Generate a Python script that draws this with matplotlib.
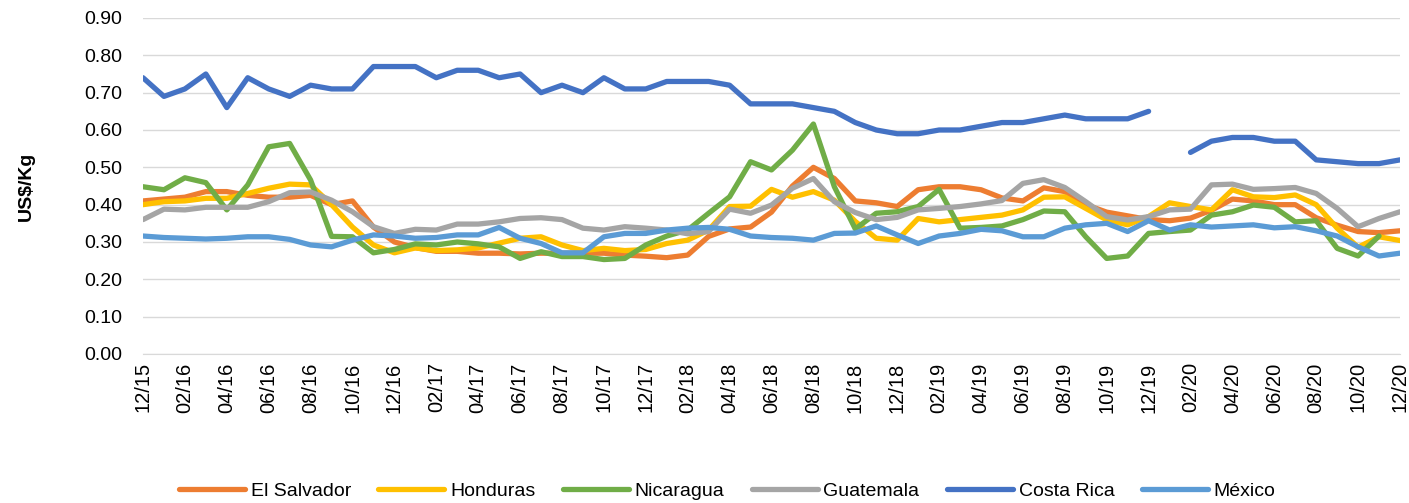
import numpy as np
import matplotlib.pyplot as plt

months = ['12/15'] + [f'{m:02d}/{y}' for y in range(16, 21) for m in range(1, 13)]

el_salvador = [0.41, 0.415, 0.42, 0.435, 0.435, 0.425, 0.42, 0.42, 0.425, 0.40,
               0.41, 0.34, 0.30, 0.285, 0.275, 0.275, 0.27, 0.27, 0.268, 0.27,
               0.27, 0.27, 0.27, 0.265, 0.262, 0.258, 0.265, 0.315, 0.335, 0.34,
               0.38, 0.45, 0.50, 0.47, 0.41, 0.405, 0.395, 0.44, 0.448, 0.448,
               0.44, 0.418, 0.41, 0.445, 0.435, 0.40, 0.38, 0.37, 0.36, 0.357,
               0.364, 0.385, 0.415, 0.41, 0.40, 0.40, 0.365, 0.345, 0.328, 0.325,
               0.33]
honduras = [0.40, 0.408, 0.41, 0.417, 0.417, 0.43, 0.444, 0.455, 0.453, 0.40,
            0.34, 0.292, 0.271, 0.284, 0.277, 0.279, 0.284, 0.297, 0.31, 0.314,
            0.292, 0.277, 0.283, 0.277, 0.28, 0.296, 0.305, 0.332, 0.395, 0.396,
            0.441, 0.42, 0.435, 0.412, 0.355, 0.31, 0.305, 0.363, 0.354, 0.36,
            0.366, 0.372, 0.386, 0.42, 0.421, 0.39, 0.359, 0.346, 0.368, 0.405,
            0.395, 0.386, 0.44, 0.421, 0.419, 0.426, 0.40, 0.337, 0.286, 0.314,
            0.304]
nicaragua = [0.448, 0.44, 0.472, 0.459, 0.386, 0.453, 0.555, 0.564, 0.466, 0.315,
             0.314, 0.271, 0.28, 0.295, 0.292, 0.30, 0.295, 0.287, 0.256, 0.274,
             0.261, 0.261, 0.253, 0.256, 0.292, 0.316, 0.332, 0.377, 0.421, 0.515,
             0.493, 0.546, 0.616, 0.448, 0.335, 0.377, 0.381, 0.395, 0.441, 0.337,
             0.339, 0.343, 0.36, 0.383, 0.381, 0.314, 0.256, 0.2625, 0.323, 0.328,
             0.332, 0.372, 0.381, 0.399, 0.393, 0.354, 0.357, 0.283, 0.2625, 0.316,
             np.nan]
guatemala = [0.36, 0.388, 0.386, 0.393, 0.393, 0.393, 0.408, 0.432, 0.434, 0.412,
             0.381, 0.341, 0.323, 0.334, 0.332, 0.348, 0.348, 0.354, 0.363, 0.365,
             0.36, 0.337, 0.332, 0.341, 0.337, 0.332, 0.322, 0.328, 0.388, 0.377,
             0.399, 0.444, 0.47, 0.408, 0.379, 0.36, 0.366, 0.386, 0.39, 0.395,
             0.402, 0.411, 0.457, 0.467, 0.446, 0.408, 0.368, 0.359, 0.368, 0.386,
             0.388, 0.453, 0.455, 0.441, 0.443, 0.446, 0.43, 0.39, 0.341, 0.363,
             0.381]
costa_rica = [0.74, 0.69, 0.71, 0.75, 0.66, 0.74, 0.71, 0.69, 0.72, 0.71,
              0.71, 0.77, 0.77, 0.77, 0.74, 0.76, 0.76, 0.74, 0.75, 0.70,
              0.72, 0.70, 0.74, 0.71, 0.71, 0.73, 0.73, 0.73, 0.72, 0.67,
              0.67, 0.67, 0.66, 0.65, 0.62, 0.60, 0.59, 0.59, 0.60, 0.60,
              0.61, 0.62, 0.62, 0.63, 0.64, 0.63, 0.63, 0.63, 0.65, np.nan,
              0.54, 0.57, 0.58, 0.58, 0.57, 0.57, 0.52, 0.515, 0.51, 0.51,
              0.52]
mexico = [0.316, 0.312, 0.31, 0.308, 0.31, 0.314, 0.314, 0.307, 0.292, 0.287,
          0.305, 0.319, 0.316, 0.31, 0.312, 0.319, 0.319, 0.339, 0.31, 0.296,
          0.271, 0.271, 0.314, 0.323, 0.323, 0.332, 0.337, 0.339, 0.334, 0.316,
          0.312, 0.31, 0.305, 0.323, 0.324, 0.343, 0.319, 0.296, 0.316, 0.323,
          0.334, 0.33, 0.314, 0.314, 0.337, 0.346, 0.35, 0.328, 0.357, 0.332,
          0.346, 0.34, 0.343, 0.346, 0.338, 0.341, 0.33, 0.316, 0.287, 0.2625,
          0.27]

series = [('El Salvador', el_salvador, '#ED7D31'),
          ('Honduras', honduras, '#FFC000'),
          ('Nicaragua', nicaragua, '#70AD47'),
          ('Guatemala', guatemala, '#A5A5A5'),
          ('Costa Rica', costa_rica, '#4472C4'),
          ('México', mexico, '#5B9BD5')]

plt.rcParams['font.family'] = ['Liberation Sans', 'DejaVu Sans']

fig = plt.figure(figsize=(14.09, 5.03), dpi=100)
ax = fig.add_axes([143 / 1409, 1 - 354 / 503, (1400 - 143) / 1409, (354 - 18) / 503])

x = np.arange(len(months))
for name, vals, col in series:
    ax.plot(x, vals, color=col, lw=3.8, label=name,
            solid_joinstyle='round', solid_capstyle='round')

ax.set_xlim(0, len(months) - 1)
ax.set_ylim(0, 0.9)
ax.set_yticks(np.arange(0, 0.91, 0.1))
ax.set_yticklabels([f'{v:.2f}' for v in np.arange(0, 0.91, 0.1)], fontsize=14)
ax.set_xticks(x[::2])
ax.set_xticklabels(months[::2], rotation=90, fontsize=14.5)
ax.tick_params(axis='y', length=0, pad=15)
ax.tick_params(axis='x', length=0, pad=6)

ax.grid(axis='y', color='#D9D9D9', lw=1)
ax.set_axisbelow(True)
for s in ['top', 'right', 'left']:
    ax.spines[s].set_visible(False)
ax.spines['bottom'].set_color('#D9D9D9')

ax.set_ylabel('US$/Kg', fontsize=14, fontweight='bold')
ax.yaxis.set_label_coords(-0.086, 0.5)

fig.legend(loc='center', bbox_to_anchor=(0.516, 0.024), ncol=6, frameon=False,
           fontsize=14, handlelength=3.4, columnspacing=1.4, handletextpad=0.3)

plt.savefig('out.png', dpi=100)
